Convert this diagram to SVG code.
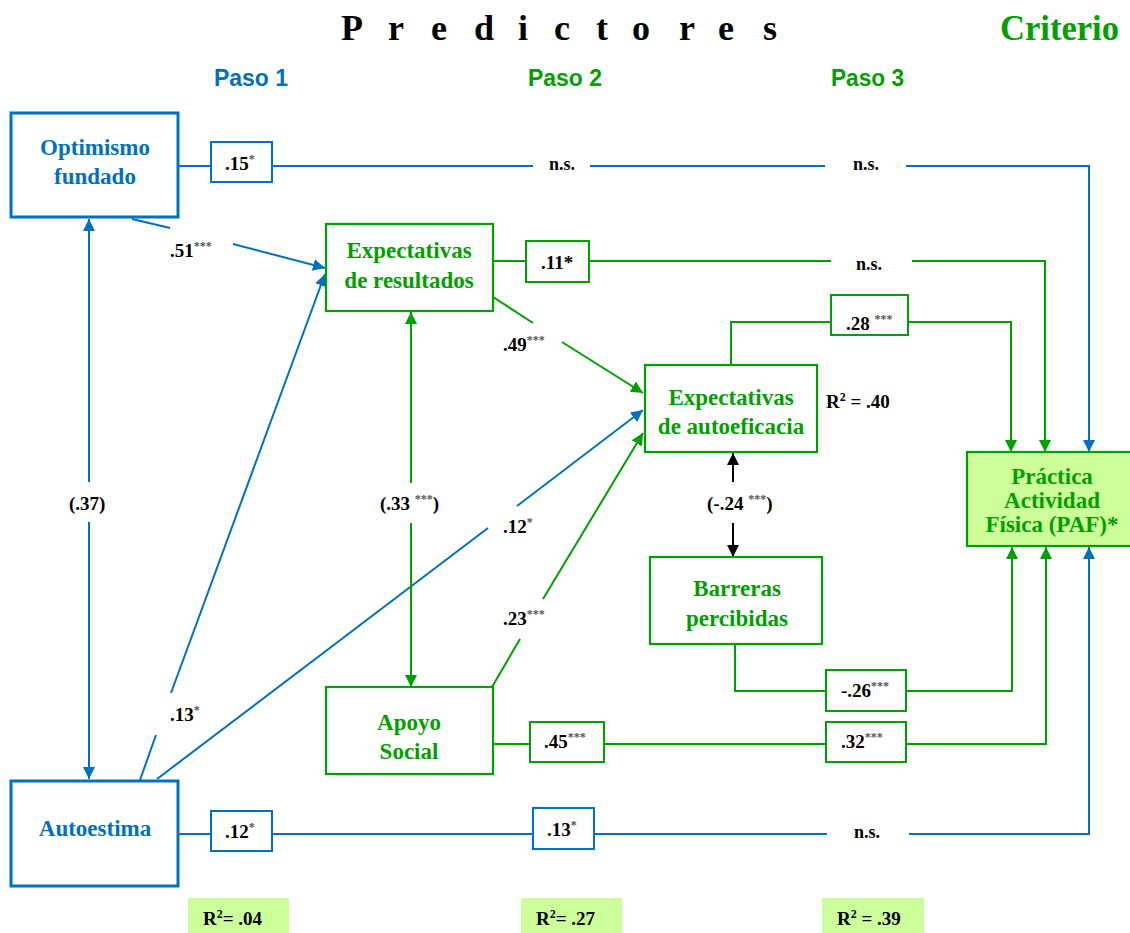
<svg xmlns="http://www.w3.org/2000/svg" width="1130" height="933" viewBox="0 0 1130 933">
  <style>
    text { font-family: "Liberation Serif", "Times New Roman", serif; font-weight: bold; }
    .sans { font-family: "Liberation Sans", Arial, sans-serif; }
    .nb { fill: #fff; stroke: #0070C0; stroke-width: 3; }
    .ng { fill: #fff; stroke: #00A000; stroke-width: 2.2; }
    .cb { fill: #fff; stroke: #0070C0; stroke-width: 2; }
    .cg { fill: #fff; stroke: #00A000; stroke-width: 2; }
    .tb { fill: #0070C0; font-size: 23px; text-anchor: middle; }
    .tg { fill: #00A000; font-size: 23px; text-anchor: middle; }
    .coef { fill: #000; font-size: 19px; }
    .ns { fill: #000; font-size: 18px; text-anchor: middle; }
    .sup { font-size: 12px; fill: #555; }
    .lb { fill: none; stroke: #0070C0; stroke-width: 2; }
    .lg { fill: none; stroke: #00A000; stroke-width: 2; }
    .lk { fill: none; stroke: #000; stroke-width: 2; }
    .r2 { fill: #CCFF99; }
  </style>
  <defs>
    <marker id="ab" viewBox="0 0 12 12" refX="12" refY="6" markerWidth="12" markerHeight="12" markerUnits="userSpaceOnUse" orient="auto">
      <path d="M0,0 L12,6 L0,12 z" fill="#0070C0"/>
    </marker>
    <marker id="ag" viewBox="0 0 12 12" refX="12" refY="6" markerWidth="12" markerHeight="12" markerUnits="userSpaceOnUse" orient="auto">
      <path d="M0,0 L12,6 L0,12 z" fill="#00A000"/>
    </marker>
    <marker id="ak" viewBox="0 0 12 12" refX="12" refY="6" markerWidth="12" markerHeight="12" markerUnits="userSpaceOnUse" orient="auto">
      <path d="M0,0 L12,6 L0,12 z" fill="#000"/>
    </marker>
  </defs>

  <!-- headings -->
  <g id="headings">
    <text font-size="36" fill="#000" x="341 388 431 474 518 554 596 632 679 718 763" y="40">Predictores</text>
    <text font-size="35" fill="#00A000" x="1000" y="40" textLength="119" lengthAdjust="spacingAndGlyphs">Criterio</text>
    <text class="sans" font-size="23" fill="#0070C0" x="214" y="86" textLength="74" lengthAdjust="spacingAndGlyphs">Paso 1</text>
    <text class="sans" font-size="23" fill="#00A000" x="528" y="86" textLength="74" lengthAdjust="spacingAndGlyphs">Paso 2</text>
    <text class="sans" font-size="23" fill="#00A000" x="831" y="86" textLength="73" lengthAdjust="spacingAndGlyphs">Paso 3</text>
  </g>

  <!-- connectors -->
  <g id="connectors">
    <!-- Optimismo -> PAF -->
    <path class="lb" d="M178,166 H211 M272,166 H533 M590,166 H825"/>
    <path class="lb" d="M906,166 H1089 V452" marker-end="url(#ab)"/>
    <!-- Optimismo -> Expectativas de resultados (.51) -->
    <path class="lb" d="M132,219 L170,228"/>
    <path class="lb" d="M233,244 L325,268" marker-end="url(#ab)"/>
    <!-- Autoestima -> Expectativas de resultados (.13) -->
    <path class="lb" d="M140,780 L156,735"/>
    <path class="lb" d="M171,693 L325,274" marker-end="url(#ab)"/>
    <!-- Autoestima -> Expectativas de autoeficacia (.12) -->
    <path class="lb" d="M157,779 L488,528"/>
    <path class="lb" d="M517,506 L643,410" marker-end="url(#ab)"/>
    <!-- Optimismo <-> Autoestima (.37) -->
    <path class="lb" d="M89,482 V219" marker-end="url(#ab)"/>
    <path class="lb" d="M89,522 V779" marker-end="url(#ab)"/>
    <!-- Autoestima -> PAF -->
    <path class="lb" d="M179,834 H211 M272,834 H533 M594,834 H827"/>
    <path class="lb" d="M909,834 H1089 V547" marker-end="url(#ab)"/>

    <!-- Expectativas de resultados -> PAF -->
    <path class="lg" d="M493,261 H526 M589,261 H831"/>
    <path class="lg" d="M912,261 H1045 V452" marker-end="url(#ag)"/>
    <!-- Expectativas de resultados -> autoeficacia (.49) -->
    <path class="lg" d="M493,297 L533,323"/>
    <path class="lg" d="M562,342 L643,393" marker-end="url(#ag)"/>
    <!-- autoeficacia -> PAF (.28) -->
    <path class="lg" d="M731,365 V322 H831"/>
    <path class="lg" d="M908,322 H1011 V452" marker-end="url(#ag)"/>
    <!-- resultados <-> apoyo (.33) -->
    <path class="lg" d="M411,483 V312" marker-end="url(#ag)"/>
    <path class="lg" d="M411,523 V687" marker-end="url(#ag)"/>
    <!-- Apoyo -> autoeficacia (.23) -->
    <path class="lg" d="M492,687 L520,639"/>
    <path class="lg" d="M543,599 L643,433" marker-end="url(#ag)"/>
    <!-- Barreras -> PAF (-.26) -->
    <path class="lg" d="M735,645 V691 H826"/>
    <path class="lg" d="M906,691 H1012 V547" marker-end="url(#ag)"/>
    <!-- Apoyo -> PAF (.45 / .32) -->
    <path class="lg" d="M493,744 H530 M604,744 H826"/>
    <path class="lg" d="M906,744 H1046 V547" marker-end="url(#ag)"/>
    <!-- autoeficacia <-> barreras (-.24) -->
    <path class="lk" d="M733,482 V453" marker-end="url(#ak)"/>
    <path class="lk" d="M733,523 V557" marker-end="url(#ak)"/>
  </g>

  <!-- coefficient boxes and labels -->
  <g id="coefficients">
    <rect class="cb" x="211" y="142" width="61" height="40"/>
    <text class="coef" x="225" y="170">.15<tspan class="sup" dy="-7">*</tspan></text>
    <text class="ns" x="562" y="170">n.s.</text>
    <text class="ns" x="866" y="170">n.s.</text>

    <text class="coef" x="170" y="257">.51<tspan class="sup" dy="-7">***</tspan></text>

    <rect class="cg" x="526" y="241" width="63" height="41"/>
    <text class="coef" x="541" y="269">.11*</text>
    <text class="ns" x="869" y="270">n.s.</text>

    <text class="coef" x="503" y="351">.49<tspan class="sup" dy="-7">***</tspan></text>

    <rect class="cg" x="831" y="295" width="77" height="40"/>
    <text class="coef" x="846" y="330">.28 <tspan class="sup" dy="-7">***</tspan></text>

    <text class="coef" x="826" y="408">R<tspan font-size="12" dy="-7">2</tspan><tspan dy="7"> = .40</tspan></text>

    <text class="coef" x="69" y="510">(.37)</text>
    <text class="coef" x="380" y="510">(.33 <tspan class="sup" dy="-7">***</tspan><tspan dy="7">)</tspan></text>
    <text class="coef" x="503" y="533">.12<tspan class="sup" dy="-7">*</tspan></text>
    <text class="coef" x="707" y="510">(-.24 <tspan class="sup" dy="-7">***</tspan><tspan dy="7">)</tspan></text>

    <text class="coef" x="503" y="625">.23<tspan class="sup" dy="-7">***</tspan></text>

    <rect class="cg" x="826" y="670" width="80" height="41"/>
    <text class="coef" x="841" y="697">-.26<tspan class="sup" dy="-7">***</tspan></text>

    <text class="coef" x="170" y="721">.13<tspan class="sup" dy="-7">*</tspan></text>

    <rect class="cg" x="530" y="722" width="74" height="40"/>
    <text class="coef" x="544" y="748">.45<tspan class="sup" dy="-7">***</tspan></text>
    <rect class="cg" x="826" y="722" width="80" height="40"/>
    <text class="coef" x="841" y="748">.32<tspan class="sup" dy="-7">***</tspan></text>

    <rect class="cb" x="211" y="811" width="61" height="40"/>
    <text class="coef" x="225" y="838">.12<tspan class="sup" dy="-7">*</tspan></text>
    <rect class="cb" x="533" y="808" width="61" height="41"/>
    <text class="coef" x="547" y="836">.13<tspan class="sup" dy="-7">*</tspan></text>
    <text class="ns" x="867" y="838">n.s.</text>
  </g>

  <!-- explained variance per step -->
  <g id="r2">
    <rect class="r2" x="188" y="898" width="101" height="35"/>
    <text class="coef" x="203" y="925">R<tspan font-size="12" dy="-7">2</tspan><tspan dy="7">= .04</tspan></text>
    <rect class="r2" x="521" y="898" width="101" height="35"/>
    <text class="coef" x="536" y="925">R<tspan font-size="12" dy="-7">2</tspan><tspan dy="7">= .27</tspan></text>
    <rect class="r2" x="822" y="898" width="102" height="35"/>
    <text class="coef" x="837" y="925">R<tspan font-size="12" dy="-7">2</tspan><tspan dy="7"> = .39</tspan></text>
  </g>

  <!-- nodes -->
  <g id="optimismo">
    <rect class="nb" x="11" y="113" width="167" height="104"/>
    <text class="tb" x="95" y="155">Optimismo</text>
    <text class="tb" x="95" y="184">fundado</text>
  </g>
  <g id="autoestima">
    <rect class="nb" x="11" y="781" width="167" height="105"/>
    <text class="tb" x="95" y="836">Autoestima</text>
  </g>
  <g id="exp-resultados">
    <rect class="ng" x="326" y="224" width="167" height="87"/>
    <text class="tg" x="409" y="258">Expectativas</text>
    <text class="tg" x="409" y="288">de resultados</text>
  </g>
  <g id="exp-autoeficacia">
    <rect class="ng" x="645" y="365" width="172" height="87"/>
    <text class="tg" x="731" y="405">Expectativas</text>
    <text class="tg" x="731" y="434">de autoeficacia</text>
  </g>
  <g id="apoyo-social">
    <rect class="ng" x="326" y="687" width="167" height="87"/>
    <text class="tg" x="409" y="730">Apoyo</text>
    <text class="tg" x="409" y="759">Social</text>
  </g>
  <g id="barreras">
    <rect class="ng" x="650" y="557" width="172" height="87"/>
    <text class="tg" x="737" y="596">Barreras</text>
    <text class="tg" x="737" y="626">percibidas</text>
  </g>
  <g id="paf">
    <rect x="967" y="452" width="165" height="94" fill="#CCFF99" stroke="#00A000" stroke-width="2.2"/>
    <text class="tg" x="1052" y="484">Práctica</text>
    <text class="tg" x="1052" y="508">Actividad</text>
    <text class="tg" x="1052" y="532">Física (PAF)*</text>
  </g>
</svg>
